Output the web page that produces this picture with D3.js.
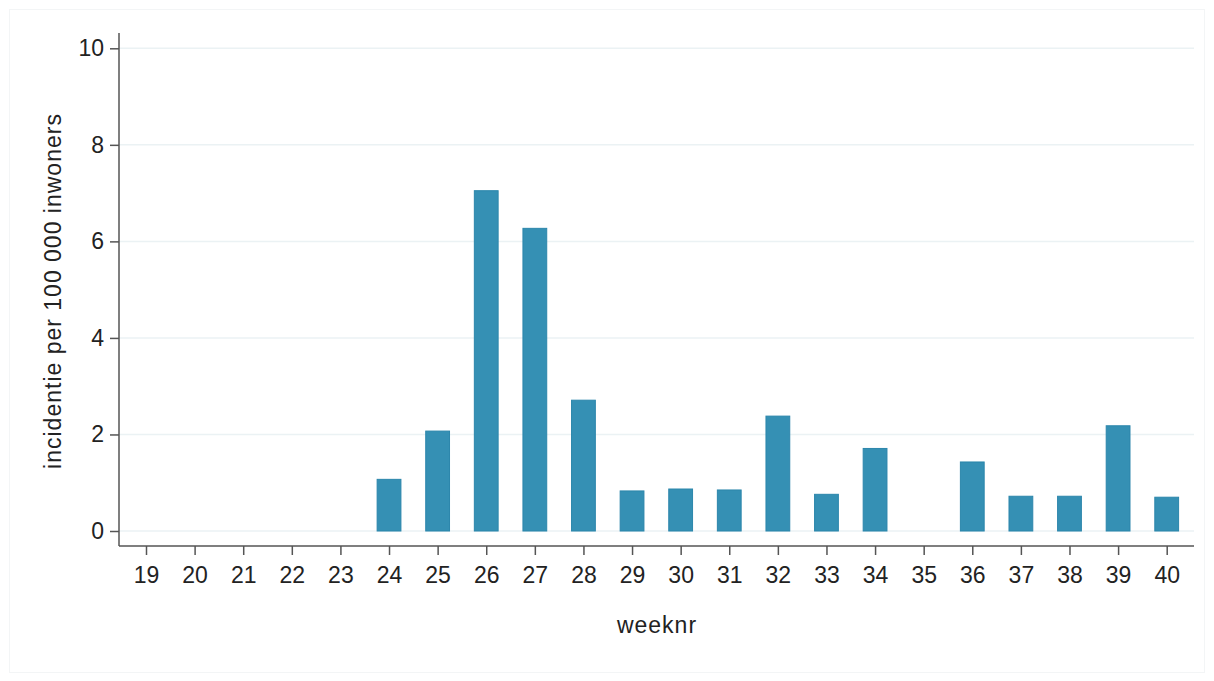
<!DOCTYPE html>
<html><head><meta charset="utf-8">
<script src="https://cdn.jsdelivr.net/npm/d3@7"></script>
<style>
html,body{margin:0;padding:0;background:#fff;}
svg{display:block;font-family:"Liberation Sans",Arial,sans-serif;}
</style></head>
<body>
<script>
const weeks = [19,20,21,22,23,24,25,26,27,28,29,30,31,32,33,34,35,36,37,38,39,40];
const incidence = [0,0,0,0,0,1.07,2.07,7.05,6.27,2.71,0.83,0.87,0.85,2.38,0.76,1.71,0,1.43,0.72,0.72,2.18,0.70];
const yTicks = [0,2,4,6,8,10];
const xTitle = "weeknr";
const yTitle = "incidentie per 100 000 inwoners";

const W = 1214, H = 681;
const svg = d3.select("body").append("svg").attr("width", W).attr("height", H);

// outer frame
svg.append("rect").attr("x", 9.5).attr("y", 9.5).attr("width", 1195).attr("height", 663)
  .attr("fill", "#fff").attr("stroke", "#f3f5f6").attr("stroke-width", 1);

const plotL = 119, plotR = 1194, axisY = 546;
const x = d3.scalePoint().domain(weeks).range([146, 1166.7]);
const y = d3.scaleLinear().domain([0, 10]).range([531, 48.3]);
const bw = x.step() * 0.51;

// gridlines
svg.append("g").selectAll("line").data(yTicks).join("line")
  .attr("x1", plotL).attr("x2", plotR)
  .attr("y1", d => y(d)).attr("y2", d => y(d))
  .attr("stroke", "#ebf2f4").attr("stroke-width", 1.5);

// bars
svg.append("g").selectAll("rect").data(weeks.map((w, i) => ({w, v: incidence[i]})).filter(d => d.v > 0))
  .join("rect")
  .attr("x", d => x(d.w) - bw / 2 + 0.5)
  .attr("y", d => y(d.v))
  .attr("width", bw - 1)
  .attr("height", d => y(0) - y(d.v))
  .attr("fill", "#3590b4").attr("stroke", "#2b86ab").attr("stroke-width", 1);

const fontFam = "Liberation Sans, Arial, sans-serif";

// y axis
const yAxis = svg.append("g").attr("transform", `translate(${plotL},0)`)
  .call(d3.axisLeft(y).tickValues(yTicks).tickSize(9).tickPadding(6).tickFormat(d3.format("d")));
yAxis.attr("font-size", 23).attr("font-family", fontFam);
yAxis.select(".domain").attr("d", `M0,33V${axisY}`).attr("stroke", "#555").attr("stroke-width", 1.5);
yAxis.selectAll(".tick line").attr("stroke", "#555").attr("stroke-width", 1.5);
yAxis.selectAll(".tick text").attr("fill", "#222");

// x axis
const xAxis = svg.append("g").attr("transform", `translate(0,${axisY})`)
  .call(d3.axisBottom(x).tickSize(9).tickPadding(12));
xAxis.attr("font-size", 23).attr("font-family", fontFam);
xAxis.select(".domain").attr("d", `M${plotL},0H${plotR}`).attr("stroke", "#555").attr("stroke-width", 1.5);
xAxis.selectAll(".tick line").attr("stroke", "#555").attr("stroke-width", 1.5);
xAxis.selectAll(".tick text").attr("fill", "#222");

// titles
svg.append("text").attr("x", 657).attr("y", 633).attr("text-anchor", "middle")
  .attr("font-size", 23).attr("letter-spacing", 1).attr("font-family", fontFam).attr("fill", "#222").text(xTitle);
svg.append("text").attr("transform", "translate(61,291) rotate(-90)").attr("text-anchor", "middle")
  .attr("font-size", 23).attr("letter-spacing", 1).attr("font-family", fontFam)
  .attr("fill", "#222").text(yTitle);
</script>
</body></html>
